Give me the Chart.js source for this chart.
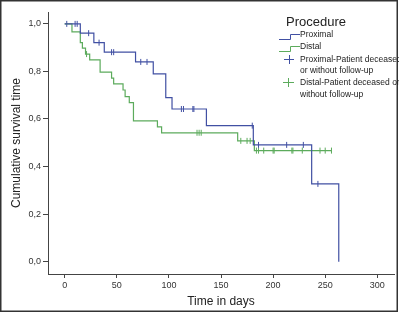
<!DOCTYPE html>
<html>
<head>
<meta charset="utf-8">
<script src="https://cdn.jsdelivr.net/npm/chart.js@4.4.0/dist/chart.umd.min.js"></script>
<style>
  html, body { margin: 0; padding: 0; background: #fff; }
  #wrap { width: 399px; height: 313px; }
</style>
</head>
<body>
<div id="wrap"><canvas id="chart_km" width="399" height="313"></canvas></div>
<script>
// Kaplan-Meier steps (day, survival after that day)
var proximalDays = [0, 15, 28, 38, 68, 85, 97, 103, 136, 181, 237, 263];
var proximalSurv = [1.0, 0.961, 0.921, 0.881, 0.840, 0.790, 0.690, 0.642, 0.572, 0.491, 0.327, 0.0];
var proximalCensored = [2, 10, 12, 23, 33, 45, 47, 73, 79, 112, 114, 123, 124, 180, 186, 213, 229, 243];

var distalDays = [0, 7, 15, 17, 20, 24, 34, 45, 47, 56, 58, 62, 66, 89, 93, 166, 182, 256];
var distalSurv = [1.0, 0.966, 0.921, 0.898, 0.873, 0.849, 0.797, 0.772, 0.748, 0.722, 0.694, 0.669, 0.592, 0.567, 0.542, 0.508, 0.467, 0.467];
var distalCensored = [21, 127, 129, 131, 169, 175, 178, 184, 186, 191, 200, 201, 218, 219, 228, 245, 250, 256];

var xTicks = [0, 50, 100, 150, 200, 250, 300];
var yTicks = [0, 0.2, 0.4, 0.6, 0.8, 1.0];

var blue = '#4150a3';
var green = '#5cab5c';

function toPoints(days, surv) {
    return days.map(function (d, i) { return { x: d, y: surv[i] }; });
}
// a censored case sits on the curve at the level in force on that day
function censorPoints(days, surv, censored) {
    return censored.map(function (t) {
        var s = surv[0];
        for (var i = 0; i < days.length; i++) {
            if (days[i] <= t) s = surv[i];
        }
        return { x: t, y: s };
    });
}

Chart.defaults.font.family = '"Liberation Sans", Arial, sans-serif';

var chart_km = new Chart(document.getElementById('chart_km'), {
    type: 'line',
    data: {
        datasets: [
            {
                label: 'Proximal',
                data: toPoints(proximalDays, proximalSurv),
                stepped: 'before',
                borderColor: blue,
                borderWidth: 1.2,
                pointRadius: 0,
                fill: false
            },
            {
                label: 'Distal',
                data: toPoints(distalDays, distalSurv),
                stepped: 'before',
                borderColor: green,
                borderWidth: 1.2,
                pointRadius: 0,
                fill: false
            },
            {
                label: 'Proximal-Patient deceased or without follow-up',
                data: censorPoints(proximalDays, proximalSurv, proximalCensored),
                showLine: false,
                pointStyle: 'line',
                rotation: 90,
                pointRadius: 3,
                borderColor: blue,
                borderWidth: 1
            },
            {
                label: 'Distal-Patient deceased or without follow-up',
                data: censorPoints(distalDays, distalSurv, distalCensored),
                showLine: false,
                pointStyle: 'line',
                rotation: 90,
                pointRadius: 3,
                borderColor: green,
                borderWidth: 1
            }
        ]
    },
    options: {
        animation: false,
        responsive: false,
        layout: { padding: { top: 12, right: 3, left: 0, bottom: 0 } },
        plugins: {
            legend: { display: false },
            tooltip: { enabled: false }
        },
        scales: {
            x: {
                type: 'linear',
                min: -16,
                max: 316,
                afterFit: function (scale) { scale.height = 39; },
                afterBuildTicks: function (scale) {
                    scale.ticks = xTicks.map(function (v) { return { value: v }; });
                },
                grid: { drawOnChartArea: false, tickLength: 4, color: '#444' },
                border: { color: '#444', width: 1 },
                ticks: { font: { size: 9 }, color: '#333', padding: 2, maxRotation: 0 },
                title: {
                    display: true,
                    text: 'Time in days',
                    font: { size: 12 },
                    color: '#222',
                    padding: { top: 0, bottom: 4 }
                }
            },
            y: {
                type: 'linear',
                min: -0.052,
                max: 1.05,
                afterFit: function (scale) { scale.width = 48; },
                afterBuildTicks: function (scale) {
                    scale.ticks = yTicks.map(function (v) { return { value: v }; });
                },
                grid: { drawOnChartArea: false, tickLength: 5, color: '#444' },
                border: { color: '#444', width: 1 },
                ticks: {
                    font: { size: 9 },
                    color: '#333',
                    padding: 2,
                    callback: function (value) { return value.toFixed(1).replace('.', ','); }
                },
                title: {
                    display: true,
                    text: 'Cumulative survival time',
                    font: { size: 12 },
                    color: '#222',
                    padding: { top: 9, bottom: 0 }
                }
            }
        }
    },
    plugins: [{
        id: 'kmFrameAndLegend',
        beforeDraw: function (chart) {
            var ctx = chart.ctx;
            ctx.save();
            ctx.fillStyle = 'white';
            ctx.fillRect(0, 0, chart.width, chart.height);
            ctx.restore();
        },
        afterDraw: function (chart) {
            var ctx = chart.ctx;
            ctx.save();
            // outer frame
            ctx.strokeStyle = '#333';
            ctx.lineWidth = 1.5;
            ctx.strokeRect(0.75, 0.75, 396.5, 310.5);

            // legend
            ctx.fillStyle = '#222';
            ctx.textBaseline = 'alphabetic';
            ctx.font = '13px "Liberation Sans", Arial, sans-serif';
            ctx.fillText('Procedure', 286, 26);

            ctx.lineWidth = 1;
            ctx.strokeStyle = blue;
            ctx.beginPath();
            ctx.moveTo(279, 39.5); ctx.lineTo(290.5, 39.5); ctx.lineTo(290.5, 34.5); ctx.lineTo(300, 34.5);
            ctx.stroke();
            ctx.strokeStyle = green;
            ctx.beginPath();
            ctx.moveTo(279, 51.5); ctx.lineTo(290.5, 51.5); ctx.lineTo(290.5, 46.5); ctx.lineTo(300, 46.5);
            ctx.stroke();

            ctx.strokeStyle = blue;
            ctx.beginPath();
            ctx.moveTo(284, 59.5); ctx.lineTo(294, 59.5); ctx.moveTo(289.5, 55); ctx.lineTo(289.5, 64);
            ctx.stroke();
            ctx.strokeStyle = green;
            ctx.beginPath();
            ctx.moveTo(283, 82.5); ctx.lineTo(294, 82.5); ctx.moveTo(288.5, 78); ctx.lineTo(288.5, 87);
            ctx.stroke();

            ctx.font = '8.5px "Liberation Sans", Arial, sans-serif';
            ctx.textBaseline = 'middle';
            var lines = [
                ['Proximal', 34.5],
                ['Distal', 46.5],
                ['Proximal-Patient deceased', 59.5],
                ['or without follow-up', 71],
                ['Distal-Patient deceased or', 82.5],
                ['without follow-up', 95]
            ];
            lines.forEach(function (l) { ctx.fillText(l[0], 300, l[1]); });
            ctx.restore();
        }
    }]
});
</script>
</body>
</html>
